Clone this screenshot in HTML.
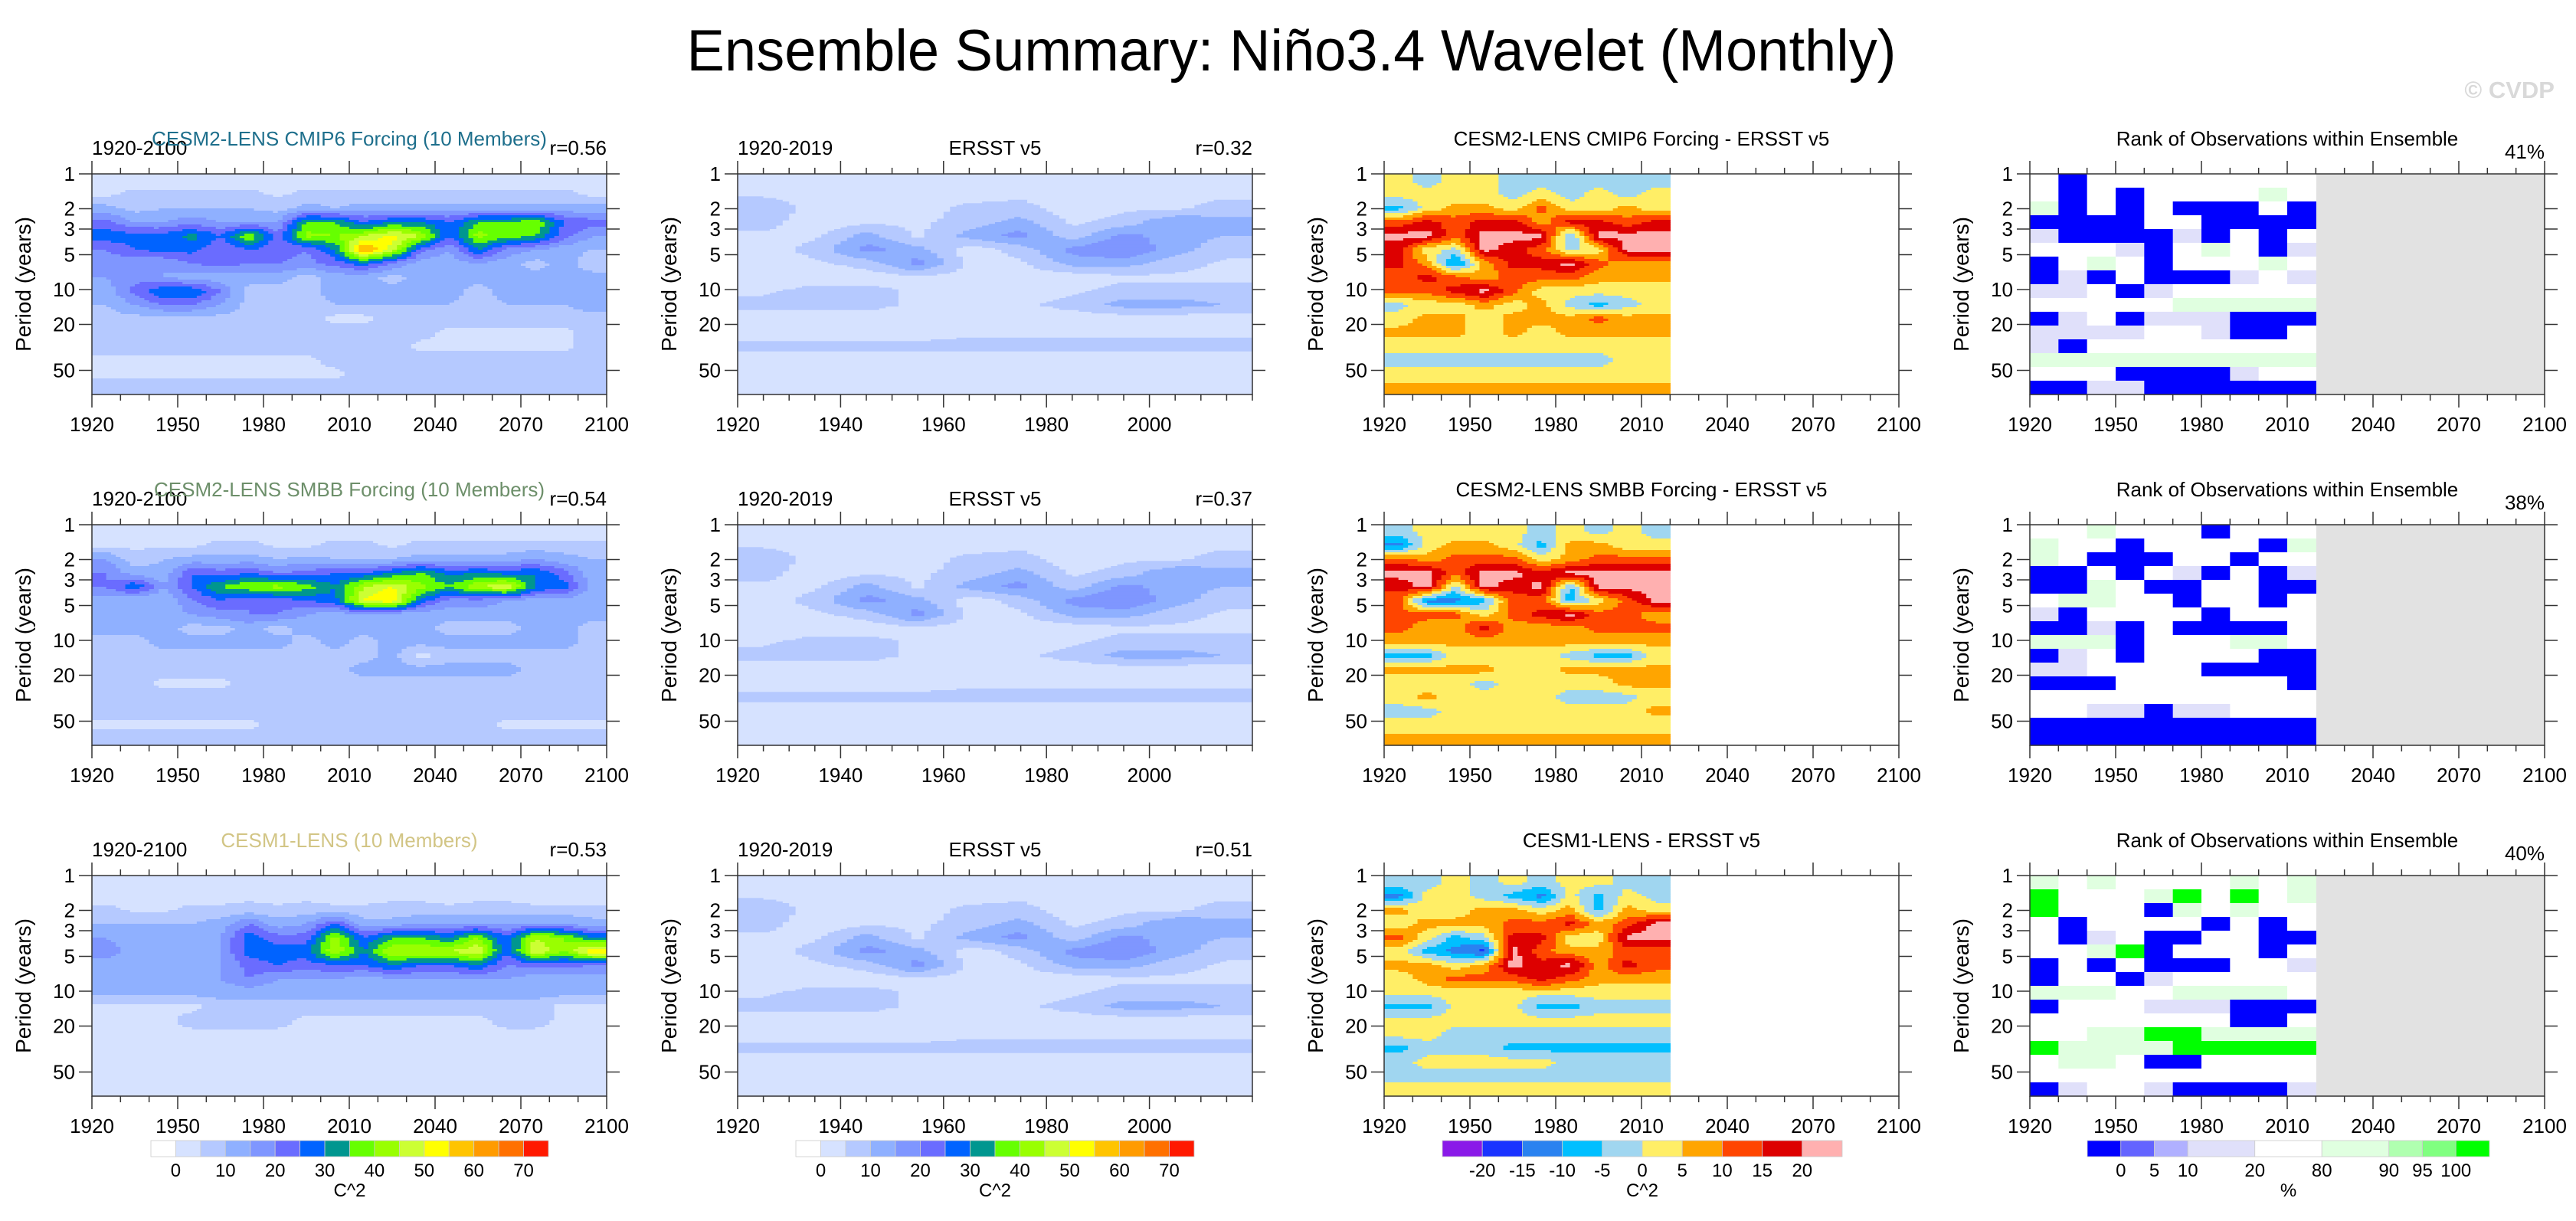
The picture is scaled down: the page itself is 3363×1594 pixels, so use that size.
<!DOCTYPE html>
<html><head><meta charset="utf-8"><title>Ensemble Summary: Niño3.4 Wavelet (Monthly)</title>
<style>
html,body{margin:0;padding:0;background:#fff;}
svg{display:block;font-family:"Liberation Sans",Arial,sans-serif;}
</style></head>
<body>
<svg id="fig" width="3363" height="1594" viewBox="0 0 3363 1594" xmlns="http://www.w3.org/2000/svg">
<rect x="0" y="0" width="3363" height="1594" fill="#fff"/>
<text x="1686" y="92" font-size="76" text-anchor="middle" textLength="1579" lengthAdjust="spacingAndGlyphs">Ensemble Summary: Niño3.4 Wavelet (Monthly)</text>
<text x="3335" y="128" font-size="31" font-weight="bold" fill="#d9d9d9" text-anchor="end">© CVDP</text>
</svg>
<script>
// ---- chart data ----
const decadesFull = [1920,1930,1940,1950,1960,1970,1980,1990,2000,2010,2020,2030,2040,2050,2060,2070,2080,2090];
const decadesObs = [1920,1930,1940,1950,1960,1970,1980,1990,2000,2010];
const periodTicks = [1,2,3,5,10,20,50];
const xTicksLong = [1920,1950,1980,2010,2040,2070,2100];
const xTicksObs = [1920,1940,1960,1980,2000];
const powerLevels = [0,5,10,15,20,25,30,35,40,45,50,55,60,65,70];
const powerLabels = [0,10,20,30,40,50,60,70];
const diffLevels = [-20,-15,-10,-5,0,5,10,15,20];
const rankLevels = [0,5,10,20,80,90,95,100];
const rankBarUnits = [1,1,1,2,2,2,1,1,1];
const rowTitles = ["CESM2-LENS CMIP6 Forcing (10 Members)","CESM2-LENS SMBB Forcing (10 Members)","CESM1-LENS (10 Members)"];
const diffTitles = ["CESM2-LENS CMIP6 Forcing - ERSST v5","CESM2-LENS SMBB Forcing - ERSST v5","CESM1-LENS - ERSST v5"];
const modelR = ["r=0.56","r=0.54","r=0.53"];
const obsR = ["r=0.32","r=0.37","r=0.51"];
const rankPct = ["41%","38%","40%"];

// wavelet power (C^2): 16 period bands (top=short) x decades
const cmip6Power = [
[2,2,2,2,2,2,2,2,2,2,2,2,2,2,2,2,2,2],
[4,7,7,7,7,7,4,7,7,7,7,7,7,7,7,7,7,4],
[12,8,10,10,10,10,8,12,10,12,12,12,12,12,12,12,12,12],
[22,15,15,18,15,15,15,35,35,25,30,30,25,35,35,40,25,22],
[28,27,27,32,25,40,22,42,40,45,52,45,25,42,38,35,22,15],
[20,25,27,27,20,25,22,20,30,62,48,22,15,30,18,15,12,10],
[18,15,15,20,22,20,20,18,22,28,20,12,12,15,12,8,12,7],
[15,18,15,12,12,12,12,8,12,12,8,12,12,12,12,12,12,12],
[12,22,30,30,20,8,8,8,12,12,12,15,12,8,12,12,12,15],
[10,15,20,20,15,8,8,8,10,10,10,10,10,8,10,10,10,12],
[8,8,8,8,8,8,8,8,3,3,8,8,8,8,8,8,8,8],
[8,8,8,8,8,8,8,8,8,8,8,8,3,3,3,3,3,8],
[8,8,8,8,8,8,8,8,8,8,8,3,3,3,3,3,3,8],
[3,3,3,3,3,3,3,3,8,8,8,8,8,8,8,8,8,8],
[3,3,3,3,3,3,3,3,3,8,8,8,8,8,8,8,8,8],
[8,8,8,8,8,8,8,8,8,8,8,8,8,8,8,8,8,8]];
const smbbPower = [
[2,2,2,2,2,2,2,2,2,2,2,2,2,2,2,2,2,2],
[4,4,4,4,7,7,4,4,7,7,4,7,7,7,7,7,7,7],
[15,7,10,12,12,12,10,12,10,10,10,12,12,12,12,15,12,10],
[20,12,12,25,22,25,20,22,25,25,30,35,28,30,28,30,22,12],
[20,30,15,25,35,40,42,38,30,45,50,42,35,45,50,30,28,12],
[12,10,10,20,25,20,22,25,28,50,55,28,18,18,15,12,12,12],
[12,12,12,15,18,20,20,15,12,15,12,12,12,12,12,12,12,12],
[12,12,12,8,8,12,8,12,12,12,12,12,8,8,8,12,12,8],
[8,8,12,12,12,12,12,8,12,8,12,12,12,12,12,12,12,8],
[8,8,8,8,8,8,8,8,8,8,12,3,8,8,8,8,8,8],
[8,8,8,8,8,8,8,8,8,12,12,12,12,12,12,8,8,8],
[8,8,3,3,3,8,8,8,8,8,8,8,8,8,8,8,8,8],
[8,8,8,8,8,8,8,8,8,8,8,8,8,8,8,8,8,8],
[8,8,8,8,8,8,8,8,8,8,8,8,8,8,8,8,8,8],
[3,3,3,3,3,3,8,8,8,8,8,8,8,8,3,3,3,3],
[8,8,8,8,8,8,8,8,8,8,8,8,8,8,8,8,8,8]];
const cesm1Power = [
[2,2,2,2,2,2,2,2,2,2,2,2,2,2,2,2,2,2],
[2,2,2,2,2,4,2,4,2,2,4,4,2,4,4,2,2,2],
[7,4,4,7,7,7,7,7,7,7,7,7,7,7,7,7,7,7],
[10,10,10,10,12,20,12,15,25,12,12,15,15,15,15,15,15,12],
[15,12,12,12,15,28,22,22,42,25,35,35,30,40,25,45,40,30],
[18,12,12,12,15,28,28,28,45,30,45,45,45,50,25,50,40,55],
[12,12,12,12,15,22,25,22,25,25,30,25,25,30,20,22,22,20],
[12,12,12,15,15,20,15,15,15,12,15,15,15,15,15,12,12,12],
[12,12,12,12,12,12,12,12,12,12,12,12,12,12,12,12,12,12],
[3,3,3,3,8,8,8,8,8,8,8,8,8,8,8,8,3,3],
[3,3,3,8,8,8,8,3,3,3,3,3,3,3,8,8,3,3],
[3,3,3,3,3,3,3,3,3,3,3,3,3,3,3,3,3,3],
[3,3,3,3,3,3,3,3,3,3,3,3,3,3,3,3,3,3],
[3,3,3,3,3,3,3,3,3,3,3,3,3,3,3,3,3,3],
[3,3,3,3,3,3,3,3,3,3,3,3,3,3,3,3,3,3],
[3,3,3,3,3,3,3,3,3,3,3,3,3,3,3,3,3,3]];
const ersstPower = [
[2,2,2,2,2,2,2,2,2,2],
[4,2,2,2,2,4,2,2,4,4],
[10,2,2,2,7,7,2,4,4,7],
[7,2,4,4,7,12,4,7,15,12],
[4,4,12,4,12,17,7,17,12,10],
[2,7,17,12,2,7,17,20,12,7],
[2,4,7,17,4,4,12,12,7,4],
[2,2,2,4,2,2,2,4,4,4],
[4,7,7,4,2,2,4,7,7,7],
[7,7,7,4,2,4,7,12,12,10],
[2,2,2,2,2,2,2,2,2,2],
[2,2,2,2,4,4,4,4,4,4],
[7,7,7,7,7,7,7,7,7,7],
[2,2,2,2,2,2,2,2,2,2],
[2,2,2,2,2,2,2,2,2,2],
[2,2,2,2,2,2,2,2,2,2]];
// model minus observations (C^2)
const cmip6Diff = [
[2,-2,2,2,-2,-2,-2,-2,-2,-2],
[2,2,2,2,-2,2,-2,2,-2,2],
[-7,2,7,7,2,12,2,2,7,2],
[12,17,12,17,17,7,17,17,12,17],
[22,22,12,22,22,22,-7,22,22,22],
[17,2,-2,22,17,12,-2,2,22,22],
[17,7,-12,7,17,17,22,12,7,7],
[12,17,12,7,12,12,12,7,7,7],
[12,12,17,22,12,2,2,2,2,2],
[-2,2,2,7,2,7,-2,-7,-2,2],
[2,7,7,2,7,7,7,12,7,7],
[7,7,7,2,7,2,7,7,7,7],
[2,2,2,2,2,2,2,2,2,2],
[-2,-2,-2,-2,-2,-2,-2,-2,2,2],
[2,2,2,2,2,2,2,2,2,2],
[7,7,7,7,7,7,7,7,7,7]];
const smbbDiff = [
[-2,2,2,2,2,-2,2,-2,2,-2],
[-12,2,7,7,2,-7,7,7,2,2],
[12,7,12,12,12,2,7,12,12,12],
[22,22,12,22,22,17,22,22,22,22],
[17,22,-2,22,17,22,-7,22,22,22],
[12,-12,-12,-7,12,12,-7,2,12,22],
[12,12,12,2,12,17,22,12,12,7],
[12,7,7,17,7,7,7,12,12,12],
[7,7,7,7,7,7,7,7,7,7],
[-7,-7,2,2,2,2,-2,-7,-7,2],
[7,7,7,7,2,2,7,7,7,7],
[2,2,2,-2,2,2,2,2,7,7],
[2,7,2,2,2,2,-2,-2,-2,2],
[-2,-2,2,2,2,2,2,2,2,7],
[2,2,2,2,2,2,2,2,2,2],
[7,7,7,7,7,7,7,7,7,7]];
const cesm1Diff = [
[-2,-2,2,-2,2,-2,2,2,-2,-2],
[-12,2,2,-2,-7,-12,2,-7,2,-2],
[7,2,2,7,7,2,7,-7,7,2],
[2,7,7,7,12,12,17,7,12,22],
[12,2,-7,-2,17,17,2,2,22,22],
[2,-7,-12,-17,22,12,7,7,12,12],
[7,7,2,7,22,17,22,7,17,12],
[2,7,12,12,12,17,12,7,7,7],
[2,2,2,2,2,2,2,2,2,2],
[-7,-7,2,2,2,-7,-7,-2,-2,-2],
[2,2,2,2,2,2,2,2,2,2],
[2,2,-2,-2,-2,-2,-2,-2,-2,-2],
[-7,-2,-2,-2,-7,-7,-7,-7,-7,-7],
[-2,2,2,2,2,2,-2,-2,-2,-2],
[-2,-2,-2,-2,-2,-2,-2,-2,-2,-2],
[2,2,2,2,2,2,2,2,2,2]];
// rank of observations within ensemble (%)
const cmip6Rank = [
[50,-1,50,50,50,50,50,50,50,50],
[50,-1,50,-1,50,50,50,50,85,50],
[85,-1,50,-1,50,-1,-1,-1,50,-1],
[-1,-1,-1,-1,50,50,-1,-1,-1,-1],
[15,-1,-1,-1,-1,15,-1,50,-1,50],
[50,50,50,15,-1,50,85,50,-1,15],
[-1,50,85,50,-1,50,50,50,85,50],
[-1,15,-1,50,-1,-1,-1,15,50,15],
[15,15,50,-1,15,50,50,50,50,50],
[50,50,50,50,50,85,85,85,85,85],
[-1,15,50,-1,15,15,15,-1,-1,-1],
[15,15,15,15,50,50,15,-1,-1,50],
[15,-1,50,50,50,50,50,50,50,50],
[85,85,85,85,85,85,85,85,85,85],
[50,50,50,-1,-1,-1,-1,15,50,50],
[-1,-1,15,15,-1,-1,-1,-1,-1,-1]];
const smbbRank = [
[50,50,85,50,50,50,-1,50,50,50],
[85,50,50,-1,50,50,50,50,-1,85],
[85,50,-1,-1,-1,50,50,-1,50,50],
[-1,-1,50,-1,50,15,-1,50,-1,15],
[-1,-1,85,50,-1,-1,50,50,-1,-1],
[50,85,85,50,50,-1,50,50,-1,50],
[15,-1,50,50,50,50,-1,50,50,50],
[-1,-1,15,-1,50,-1,-1,-1,-1,50],
[85,85,85,-1,50,50,50,85,85,50],
[-1,15,50,-1,50,50,50,50,-1,-1],
[15,15,50,50,50,50,-1,-1,-1,-1],
[-1,-1,-1,50,50,50,50,50,50,-1],
[50,50,50,50,50,50,50,50,50,50],
[50,50,15,15,-1,15,15,50,50,50],
[-1,-1,-1,-1,-1,-1,-1,-1,-1,-1],
[-1,-1,-1,-1,-1,-1,-1,-1,-1,-1]];
const cesm1Rank = [
[85,50,85,50,50,50,50,85,50,85],
[101,50,50,50,85,101,50,101,50,85],
[101,50,50,50,-1,85,50,85,50,50],
[50,-1,50,50,50,50,-1,50,-1,50],
[50,-1,15,50,-1,-1,50,50,-1,-1],
[50,50,85,101,-1,50,50,50,-1,50],
[-1,50,-1,50,-1,-1,-1,50,50,15],
[-1,50,50,-1,15,50,50,50,50,50],
[85,85,85,50,50,85,85,85,85,50],
[-1,50,50,50,15,15,15,-1,-1,-1],
[50,50,50,50,50,50,50,-1,-1,50],
[50,50,85,85,101,101,85,85,85,85],
[101,85,85,85,85,101,101,101,101,101],
[50,85,85,50,-1,-1,50,50,50,50],
[50,50,50,50,50,50,50,50,50,50],
[-1,15,50,50,15,-1,-1,-1,-1,15]];

// ---- styling ----
const powerColors = ['#ffffff','#d6e2ff','#b5c9ff','#8fb0ff','#7f96ff','#6a6cff','#0063ff','#00968f','#66ff00','#99ff00','#ccff33','#ffff00','#ffc400','#ff9b00','#ff7000','#ff1900'];
const diffColors = ['#8a1ae8','#1a33ff','#2a82f0','#00bfff','#a0d6f0','#ffee66','#ffa500','#ff4500','#dd0000','#ffb0b0'];
const rankColors = ['#0000ff','#6464ff','#b0b0ff','#e0e0fa','#ffffff','#e0ffe0','#b0ffb0','#80ff80','#00ff00'];
const rowTitleColors = ['#1e6f8c','#6d8f6a','#d2c585'];

const NS = 'http://www.w3.org/2000/svg';
const svg = document.getElementById('fig');
const W = 672, H = 288, NB = 16;
const lefts = [120, 963, 1807, 2650];
const tops = [227, 685, 1143];
const PMAX = 80.8;

function mk(tag, attrs, parent) {
  const el = document.createElementNS(NS, tag);
  for (const k in attrs) el.setAttribute(k, attrs[k]);
  (parent || svg).appendChild(el);
  return el;
}
function bin(v, levels) { let i = 0; while (i < levels.length && v >= levels[i]) i++; return i; }
function yOfPeriod(top, p) { return top + Math.log10(p) / Math.log10(PMAX) * H; }
function bandPeriod(i) { return Math.pow(10, i * Math.log10(PMAX) / NB); }

// bilinear sample of the grid at fractional (row, col) measured in cell units
function sample(grid, fr, fc) {
  const nr = grid.length, nc = grid[0].length;
  let r = Math.min(Math.max(fr - 0.5, 0), nr - 1), c = Math.min(Math.max(fc - 0.5, 0), nc - 1);
  const r0 = Math.floor(r), c0 = Math.floor(c);
  const r1 = Math.min(r0 + 1, nr - 1), c1 = Math.min(c0 + 1, nc - 1);
  const dr = r - r0, dc = c - c0;
  return grid[r0][c0] * (1 - dr) * (1 - dc) + grid[r0][c1] * (1 - dr) * dc + grid[r1][c0] * dr * (1 - dc) + grid[r1][c1] * dr * dc;
}

function drawGrid(g, left, top, x0, x1, decades, grid, levels, colors, name, sub) {
  const xs = y => left + (y - x0) / (x1 - x0) * W;
  const nr = grid.length, nc = decades.length;
  const subR = sub, subC = sub;
  for (let i = 0; i < nr * subR; i++) {
    const fa = i / subR, fb = (i + 1) / subR;
    const ya = yOfPeriod(top, Math.pow(10, fa * Math.log10(PMAX) / NB));
    const yb = yOfPeriod(top, Math.pow(10, fb * Math.log10(PMAX) / NB));
    let runStart = 0, runColor = null;
    const total = nc * subC;
    for (let j = 0; j <= total; j++) {
      let col = null;
      if (j < total) {
        const v = sub > 1 ? sample(grid, (i + 0.5) / subR, (j + 0.5) / subC) : grid[i][j];
        col = colors[bin(v, levels)];
      }
      if (col !== runColor) {
        if (runColor !== null) {
          const xa = xs(decades[0] + runStart * 10 / subC), xb = xs(decades[0] + j * 10 / subC);
          const r = mk('rect', {x: xa.toFixed(2), y: ya.toFixed(2), width: (xb - xa + 0.6).toFixed(2), height: (yb - ya + 0.6).toFixed(2), fill: runColor}, g);
          
          
        }
        runColor = col; runStart = j;
      }
    }
  }
}

function text(parent, x, y, s, size, anchor, fill, name) {
  const t = mk('text', {x: x, y: y, 'font-size': size, 'text-anchor': anchor, fill: fill || '#000'}, parent);
  t.textContent = s;
  
  
  return t;
}

function drawAxes(g, left, top, x0, x1, majors, minorStep) {
  const xs = y => left + (y - x0) / (x1 - x0) * W;
  const frame = mk('rect', {x: left, y: top, width: W, height: H, fill: 'none', stroke: '#333', 'stroke-width': 1.5}, g);
  
  
  for (let yr = x0; yr <= x1 + 0.01; yr += minorStep) {
    const x = xs(yr);
    const isMajor = majors.indexOf(yr) >= 0;
    const len = isMajor ? 17 : 8;
    const t1 = mk('line', {x1: x, x2: x, y1: top, y2: top - len, stroke: '#333', 'stroke-width': 1.5}, g);
    
    
    const t2 = mk('line', {x1: x, x2: x, y1: top + H, y2: top + H + len, stroke: '#333', 'stroke-width': 1.5}, g);
    
    
  }
  majors.forEach(yr => {
    text(g, xs(yr), top + H + 48, String(yr), 26, 'middle', '#000', 'x-tick-label');
  });
  periodTicks.forEach(p => {
    const y = yOfPeriod(top, p);
    const a = mk('line', {x1: left - 17, x2: left, y1: y, y2: y, stroke: '#333', 'stroke-width': 1.5}, g);
    
    
    const b = mk('line', {x1: left + W, x2: left + W + 17, y1: y, y2: y, stroke: '#333', 'stroke-width': 1.5}, g);
    
    
    text(g, left - 22, y + 9, String(p), 26, 'end', '#000', 'y-tick-label');
  });
  const yl = text(g, 0, 0, 'Period (years)', 28, 'middle', '#000', 'y-axis-title');
  yl.setAttribute('transform', 'translate(' + (left - 80) + ',' + (top + H / 2) + ') rotate(-90)');
}

function colorbar(cx0, cx1, levels, colors, units, labels, unitLabel, name) {
  const g = mk('g', {});
  
  
  const y0 = 1489, h = 21;
  const tot = units.reduce((a, b) => a + b, 0);
  let acc = 0;
  const bounds = [];
  units.forEach((u, i) => {
    const xa = cx0 + acc / tot * (cx1 - cx0);
    acc += u;
    const xb = cx0 + acc / tot * (cx1 - cx0);
    if (i > 0) bounds.push(xa);
    const r = mk('rect', {x: xa, y: y0, width: xb - xa, height: h, fill: colors[i], stroke: '#ccc', 'stroke-width': 0.8}, g);
    
    
  });
  levels.forEach((lv, i) => {
    if (labels.indexOf(lv) >= 0) text(g, bounds[i], 1536, String(lv), 24, 'middle', '#000', 'colorbar-label');
  });
  text(g, (cx0 + cx1) / 2, 1562, unitLabel, 24, 'middle', '#000', 'colorbar-units');
}

const powerSets = [cmip6Power, smbbPower, cesm1Power];
const diffSets = [cmip6Diff, smbbDiff, cesm1Diff];
const rankSets = [cmip6Rank, smbbRank, cesm1Rank];

for (let r = 0; r < 3; r++) {
  const top = tops[r];
  let g = mk('g', {});
  
  
  drawGrid(g, lefts[0], top, 1920, 2100, decadesFull, powerSets[r], powerLevels, powerColors, 'power', 6);
  drawAxes(g, lefts[0], top, 1920, 2100, xTicksLong, 10);
  text(g, lefts[0], top - 25, '1920-2100', 26, 'start', '#000', 'period-label');
  text(g, lefts[0] + W, top - 25, modelR[r], 26, 'end', '#000', 'correlation-label');
  text(g, lefts[0] + W / 2, top - 37, rowTitles[r], 26, 'middle', rowTitleColors[r], 'model-title');

  g = mk('g', {});
  
  
  drawGrid(g, lefts[1], top, 1920, 2020, decadesObs, ersstPower, powerLevels, powerColors, 'obs-power', 8);
  drawAxes(g, lefts[1], top, 1920, 2020, xTicksObs, 5);
  text(g, lefts[1], top - 25, '1920-2019', 26, 'start', '#000', 'period-label');
  text(g, lefts[1] + W, top - 25, obsR[r], 26, 'end', '#000', 'correlation-label');
  text(g, lefts[1] + W / 2, top - 25, 'ERSST v5', 26, 'middle', '#000', 'obs-title');

  g = mk('g', {});
  
  
  drawGrid(g, lefts[2], top, 1920, 2100, decadesObs, diffSets[r], diffLevels, diffColors, 'diff', 6);
  drawAxes(g, lefts[2], top, 1920, 2100, xTicksLong, 10);
  text(g, lefts[2] + W / 2, top - 37, diffTitles[r], 26, 'middle', '#000', 'difference-title');

  g = mk('g', {});
  
  
  const xEnd = lefts[3] + (2020 - 1920) / 180 * W;
  const gray = mk('rect', {x: xEnd, y: top, width: lefts[3] + W - xEnd, height: H, fill: '#e2e2e2'}, g);
  
  
  drawGrid(g, lefts[3], top, 1920, 2100, decadesObs, rankSets[r], rankLevels, rankColors, 'rank', 1);
  drawAxes(g, lefts[3], top, 1920, 2100, xTicksLong, 10);
  text(g, lefts[3] + W / 2, top - 37, 'Rank of Observations within Ensemble', 26, 'middle', '#000', 'rank-title');
  text(g, lefts[3] + W, top - 20, rankPct[r], 26, 'end', '#000', 'rank-percent');
}

colorbar(197, 716, powerLevels, powerColors, powerColors.map(() => 1), powerLabels, 'C^2', 'power-colorbar-model');
colorbar(1039, 1559, powerLevels, powerColors, powerColors.map(() => 1), powerLabels, 'C^2', 'power-colorbar-obs');
colorbar(1883, 2405, diffLevels, diffColors, diffColors.map(() => 1), diffLevels, 'C^2', 'difference-colorbar');
colorbar(2725, 3250, rankLevels, rankColors, rankBarUnits, rankLevels, '%', 'rank-colorbar');
</script>
</body></html>
